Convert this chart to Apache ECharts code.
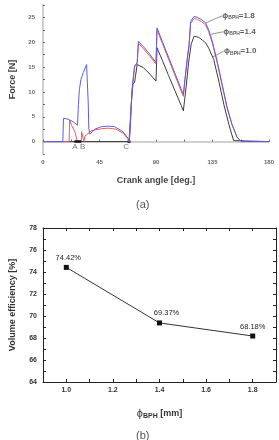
<!DOCTYPE html>
<html>
<head>
<meta charset="utf-8">
<script src="https://cdn.jsdelivr.net/npm/echarts@6/dist/echarts.min.js"></script>
<style>
  html, body { margin: 0; padding: 0; background: #fff; }
  #chart { width: 279px; height: 440px; }
</style>
</head>
<body>
<div id="chart"></div>
<script>
// (a) force vs crank angle, one pair of arrays per bypass hole diameter
const angle18 = [0, 15.8, 16.3, 20, 24, 27.5, 28.2, 29, 30.2, 32.1, 34.7, 35.5, 36, 36.5, 37.3, 41.3, 46.6, 52, 57, 63.7, 67.6, 68.7, 69.5, 70.8, 72.9, 75, 76, 80, 85, 90, 90.8, 95, 100, 105, 110, 111.8, 113, 115, 116.3, 117.6, 120.3, 123, 126, 129.5, 132, 134.8, 138.7, 142.7, 146.6, 150.5, 154.5, 157.8, 180];
const force18 = [0, 0, 4.7, 4.5, 4.0, 3.3, 7.5, 10.5, 12.5, 13.9, 15.5, 15.9, 8.0, 2.6, 1.5, 2.5, 3.0, 3.1, 3.0, 2.0, 0.7, 0, 2.9, 10.2, 15.2, 15.9, 20.2, 19.1, 17.6, 15.9, 22.9, 20.2, 17.0, 13.8, 10.6, 9.5, 12.5, 17.0, 19.5, 24.2, 25.2, 25.0, 24.6, 23.9, 22.5, 20.2, 16.2, 11.5, 6.9, 3.5, 0.9, 0, 0];

const angle14 = [0, 20.8, 21.2, 22.9, 25.5, 26.8, 27.3, 30.5, 30.8, 31.8, 32.6, 33.4, 38.7, 46.6, 52, 58, 63.7, 67.6, 68.7, 69.5, 70.8, 72.9, 75, 76, 80, 85, 90, 90.8, 95, 100, 105, 110, 111.8, 113, 115, 116.3, 117.6, 120.3, 123, 126, 129.5, 132, 134.8, 138.7, 142.7, 146.6, 150.5, 154.5, 158];
const force14 = [0, 0, 4.3, 3.2, 1.9, 0.5, 0, 0, 2.0, 0.8, 0, 1.1, 2.2, 2.6, 2.7, 2.5, 1.7, 0.6, 0, 2.7, 10.0, 15.0, 15.7, 19.8, 18.7, 17.2, 15.6, 22.5, 19.8, 16.6, 13.4, 10.2, 9.1, 12.2, 16.7, 19.1, 23.8, 24.8, 24.6, 24.2, 23.5, 22.1, 19.9, 15.9, 11.3, 6.8, 3.4, 0.9, 0];

const angle10 = [0, 68.5, 70.3, 71.6, 73, 74.2, 75, 75.8, 80, 85, 90, 90.8, 95, 100, 105, 110, 111.8, 114, 116, 118, 120.3, 124, 127, 129.5, 132, 136, 140, 144, 148, 151.8, 152.5, 180];
const force10 = [0, 0, 7.5, 11.5, 12.0, 12.0, 15.5, 15.9, 14.9, 13.6, 12.2, 18.9, 16.4, 13.3, 10.3, 7.3, 6.2, 11.0, 16.0, 19.6, 21.2, 21.0, 20.4, 19.9, 18.8, 16.5, 12.2, 7.5, 3.5, 0.2, 0, 0];

// contact points A, B, C on the baseline
const pointNames = ['A', 'B', 'C'];
const pointAngles = [25.5, 31.6, 66.3];
const contactSpan = [25, 30.5];
const contactC = 68.5;

// diameter labels with leader lines (curve point -> label point)
const diaNames = ['1.8', '1.4', '1.0'];
const leaderFrom = [[129.5, 23.9], [133.5, 21.6], [134.8, 17.0]];
const leaderTo = [[142.5, 25.3], [143.3, 22.1], [143.9, 18.2]];

const xTicksA = [0, 45, 90, 135, 180];
const yTicksA = [0, 5, 10, 15, 20, 25];

// (b) volume efficiency vs bypass hole diameter
const diameters = [1.0, 1.4, 1.8];
const efficiency = [74.42, 69.37, 68.18];
const xTicksB = [1.0, 1.2, 1.4, 1.6, 1.8];
const yTicksB = [64, 66, 68, 70, 72, 74, 76, 78];

const zip = (xs, ys) => xs.map((x, i) => [x, ys[i]]);

const chart = echarts.init(document.getElementById('chart'));

const font = 'Liberation Sans, Arial, sans-serif';
const rich = {
    p: { fontFamily: font, fontSize: 8, fontWeight: 'bold', color: '#333' },
    s: { fontFamily: font, fontSize: 5, fontWeight: 'bold', color: '#333', padding: [4, 0, 0, 0] }
};

const option = {
    animation: false,
    textStyle: { fontFamily: font },
    title: [
        { text: '(a)', left: 131, top: 194, textStyle: { fontSize: 11, fontWeight: 'normal', color: '#555' } },
        { text: '(b)', left: 131, top: 425, textStyle: { fontSize: 11, fontWeight: 'normal', color: '#555' } }
    ],
    grid: [
        { left: 41, top: 5, width: 228, height: 149 },
        { left: 43, top: 228, width: 233, height: 154 }
    ],
    xAxis: [
        {
            gridIndex: 0, type: 'value', min: 0, max: 180, interval: 22.5,
            name: 'Crank angle [deg.]', nameLocation: 'middle', nameGap: 22,
            nameTextStyle: { fontSize: 9, fontWeight: 'bold', color: '#444' },
            axisLine: { lineStyle: { color: '#666', width: 1 } },
            axisTick: { inside: true, length: 2, lineStyle: { color: '#666' } },
            axisLabel: {
                fontSize: 6, fontWeight: 'bold', color: '#666', margin: 5,
                formatter: v => xTicksA.includes(v) ? String(v) : ''
            },
            splitLine: { show: false }
        },
        {
            gridIndex: 0, type: 'value', position: 'top', min: 0, max: 180,
            axisLine: { show: true, lineStyle: { color: '#d0d0d0', width: 2 } },
            axisTick: { show: false }, axisLabel: { show: false }, splitLine: { show: false }
        },
        {
            gridIndex: 1, type: 'value', min: 0.9, max: 1.9, interval: 0.1,
            name: '{f|ϕ}{s|BPH}{t| [mm]}', nameLocation: 'middle', nameGap: 26,
            nameTextStyle: {
                rich: {
                    f: { fontSize: 11, color: '#333' },
                    s: { fontSize: 7, fontWeight: 'bold', color: '#333', padding: [5, 0, 0, 0] },
                    t: { fontSize: 9, fontWeight: 'bold', color: '#333' }
                }
            },
            axisLine: { lineStyle: { color: '#222', width: 1 } },
            axisTick: { inside: true, length: 3, lineStyle: { color: '#222' } },
            axisLabel: {
                fontSize: 7, fontWeight: 'bold', color: '#333', margin: 5,
                formatter: v => {
                    const r = Math.round(v * 10) / 10;
                    return xTicksB.includes(r) ? r.toFixed(1) : '';
                }
            },
            splitLine: { show: false }
        },
        {
            gridIndex: 1, type: 'value', position: 'top', min: 0.9, max: 1.9, interval: 0.1,
            axisLine: { show: true, lineStyle: { color: '#222', width: 1 } },
            axisTick: { inside: true, length: 3, lineStyle: { color: '#222' } },
            axisLabel: { show: false }, splitLine: { show: false }
        }
    ],
    yAxis: [
        {
            gridIndex: 0, type: 'value', min: -2.5, max: 27.5, interval: 2.5,
            name: 'Force [N]', nameLocation: 'middle', nameGap: 26,
            nameTextStyle: { fontSize: 9, fontWeight: 'bold', color: '#444' },
            axisLine: { show: true, lineStyle: { color: '#666', width: 1 } },
            axisTick: { inside: true, length: 2, lineStyle: { color: '#666' } },
            axisLabel: {
                fontSize: 6, fontWeight: 'bold', color: '#666', margin: 8,
                formatter: v => yTicksA.includes(v) ? String(v) : ''
            },
            splitLine: { show: false }
        },
        {
            gridIndex: 0, type: 'value', position: 'right', min: -2.5, max: 27.5,
            axisLine: { show: true, lineStyle: { color: '#d0d0d0', width: 2 } },
            axisTick: { show: false }, axisLabel: { show: false }, splitLine: { show: false }
        },
        {
            gridIndex: 1, type: 'value', min: 64, max: 78, interval: 1,
            name: 'Volume efficiency [%]', nameLocation: 'middle', nameGap: 26,
            nameTextStyle: { fontSize: 9, fontWeight: 'bold', color: '#333' },
            axisLine: { show: true, lineStyle: { color: '#222', width: 1 } },
            axisTick: { inside: true, length: 3, lineStyle: { color: '#222' } },
            axisLabel: {
                fontSize: 7, fontWeight: 'bold', color: '#333', margin: 6,
                formatter: v => yTicksB.includes(v) ? String(v) : ''
            },
            splitLine: { show: false }
        },
        {
            gridIndex: 1, type: 'value', position: 'right', min: 64, max: 78, interval: 1,
            axisLine: { show: true, lineStyle: { color: '#222', width: 1 } },
            axisTick: { inside: true, length: 3, lineStyle: { color: '#222' } },
            axisLabel: { show: false }, splitLine: { show: false }
        }
    ],
    series: [
        {
            name: 'ϕ=1.0', type: 'line', xAxisIndex: 0, yAxisIndex: 0,
            data: zip(angle10, force10), symbol: 'none',
            lineStyle: { color: '#3c3c3c', width: 1 }
        },
        {
            name: 'ϕ=1.4', type: 'line', xAxisIndex: 0, yAxisIndex: 0,
            data: zip(angle14, force14), symbol: 'none',
            lineStyle: { color: '#ef5b5b', width: 1 }
        },
        {
            name: 'ϕ=1.8', type: 'line', xAxisIndex: 0, yAxisIndex: 0,
            data: zip(angle18, force18), symbol: 'none',
            lineStyle: { color: '#5c5ce8', width: 1 }
        },
        {
            // thick contact segment between A and B
            type: 'line', xAxisIndex: 0, yAxisIndex: 0,
            data: contactSpan.map(a => [a, 0]), symbol: 'none',
            lineStyle: { color: '#111', width: 2.5 }
        },
        {
            type: 'scatter', xAxisIndex: 0, yAxisIndex: 0,
            data: [[contactC, 0]], symbol: 'rect', symbolSize: 3,
            itemStyle: { color: '#111' }
        },
        {
            type: 'scatter', xAxisIndex: 0, yAxisIndex: 0,
            data: pointAngles.map((a, i) => ({ value: [a, -1.1], name: pointNames[i] })),
            symbolSize: 0,
            label: { show: true, position: 'inside', formatter: p => p.name, fontSize: 8, color: '#555' }
        },
        {
            type: 'lines', coordinateSystem: 'cartesian2d', xAxisIndex: 0, yAxisIndex: 0,
            data: leaderFrom.map((f, i) => ({ coords: [f, leaderTo[i]] })),
            lineStyle: { color: '#666', width: 0.7, opacity: 1 }
        },
        {
            type: 'scatter', xAxisIndex: 0, yAxisIndex: 0,
            data: leaderTo.map((t, i) => ({ value: [t[0] + 0.3, t[1]], name: diaNames[i] })),
            symbolSize: 0,
            label: {
                show: true, position: 'right', distance: 0,
                formatter: p => '{p|ϕ}{s|BPH}{p|=' + p.name + '}',
                rich: rich
            }
        },
        {
            name: 'efficiency', type: 'line', xAxisIndex: 2, yAxisIndex: 2,
            data: diameters.map((d, i) => ({
                value: [d, efficiency[i]],
                label: { offset: [[2, 0], [7, 0], [0, 0]][i] }
            })),
            symbol: 'rect', symbolSize: 5,
            itemStyle: { color: '#111' },
            lineStyle: { color: '#333', width: 1 },
            label: {
                show: true, position: 'top', distance: 3,
                fontSize: 7.5, color: '#222',
                formatter: p => p.value[1].toFixed(2) + '%'
            }
        }
    ]
};

chart.setOption(option);
</script>
</body>
</html>
